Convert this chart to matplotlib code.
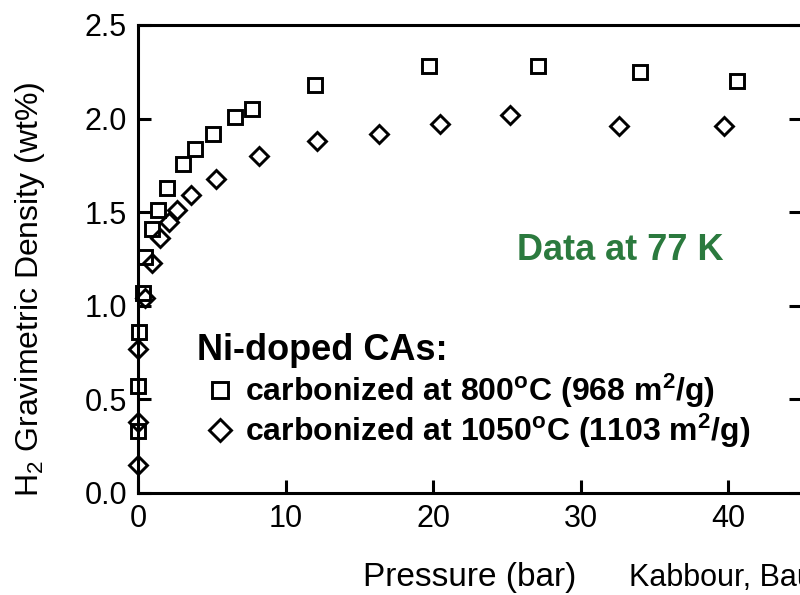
import matplotlib
matplotlib.use("Agg")
import matplotlib.pyplot as plt

plt.rcParams["font.family"] = ["Liberation Sans", "DejaVu Sans"]
plt.rcParams["mathtext.fontset"] = "custom"
plt.rcParams["mathtext.rm"] = "Liberation Sans"
plt.rcParams["mathtext.bf"] = "Liberation Sans:bold"
plt.rcParams["mathtext.it"] = "Liberation Sans:italic"

# Ni-doped CA carbonized at 800 C (squares)
p_800 = [0.0, 0.0, 0.1, 0.35, 0.5, 0.93, 1.38, 1.95, 3.08, 3.87, 5.05, 6.6, 7.7,
         12.0, 19.7, 27.1, 34.0, 40.6]
h2_800 = [0.33, 0.57, 0.86, 1.07, 1.26, 1.41, 1.51, 1.63, 1.76, 1.84, 1.92, 2.01, 2.05,
          2.18, 2.28, 2.28, 2.25, 2.20]

# Ni-doped CA carbonized at 1050 C (diamonds)
p_1050 = [0.0, 0.0, 0.02, 0.48, 0.93, 1.5, 2.1, 2.67, 3.58, 5.28, 8.2, 12.1, 16.3,
          20.5, 25.2, 32.6, 39.7]
h2_1050 = [0.15, 0.38, 0.77, 1.04, 1.23, 1.36, 1.45, 1.51, 1.59, 1.68, 1.80, 1.88, 1.92,
           1.97, 2.02, 1.96, 1.96]

label_800 = r"carbonized at 800$^{\mathbf{o}}$C (968 m$^{\mathbf{2}}$/g)"
label_1050 = r"carbonized at 1050$^{\mathbf{o}}$C (1103 m$^{\mathbf{2}}$/g)"

fig = plt.figure(figsize=(8, 5.95), dpi=100)
ax = fig.add_axes([138 / 800, 102 / 595, 664 / 800, 468 / 595])

ax.plot(p_800, h2_800, linestyle="none", marker="s", markersize=9.5,
        markerfacecolor="none", markeredgecolor="black", markeredgewidth=2.1,
        label=label_800, clip_on=False)
ax.plot(p_1050, h2_1050, linestyle="none", marker="D", markersize=9,
        markerfacecolor="none", markeredgecolor="black", markeredgewidth=2.1,
        label=label_1050, clip_on=False)

ax.set_xlim(0, 45)
ax.set_ylim(0, 2.5)
ax.set_xticks([0, 10, 20, 30, 40])
ax.set_yticks([0.0, 0.5, 1.0, 1.5, 2.0, 2.5])
ax.set_yticklabels(["0.0", "0.5", "1.0", "1.5", "2.0", "2.5"])

for s in ax.spines.values():
    s.set_linewidth(2.2)
ax.tick_params(axis="both", direction="in", length=9.5, width=2.2, labelsize=22)
ax.tick_params(axis="y", right=True, pad=8)
ax.tick_params(axis="x", pad=8)

ax.set_xlabel("Pressure (bar)", fontsize=24, labelpad=20)
ax.set_ylabel(r"H$_{\mathrm{2}}$ Gravimetric Density (wt%)", fontsize=23)
ax.yaxis.set_label_coords(-0.137, 0.435)

ax.text(0.726, 0.519, "Data at 77 K", transform=ax.transAxes, ha="center", va="center",
        fontsize=26, fontweight="bold", color="#2b7a3e")

fig.text(197 / 800, 1 - 350 / 595, "Ni-doped CAs:", fontsize=26, fontweight="bold",
         ha="left", va="center")
leg = ax.legend(loc="upper left", bbox_to_anchor=(210 / 800, 1 - 372 / 595),
                bbox_transform=fig.transFigure, frameon=False,
                prop={"size": 23, "weight": "bold"},
                handlelength=0.6, handletextpad=0.5, labelspacing=0.05,
                markerscale=1.2, borderpad=0, borderaxespad=0)

fig.text(629 / 800, 1 - 578 / 595, "Kabbour, Baumann et al.", fontsize=22,
         va="center", ha="left")

fig.savefig("out.png", dpi=100)
